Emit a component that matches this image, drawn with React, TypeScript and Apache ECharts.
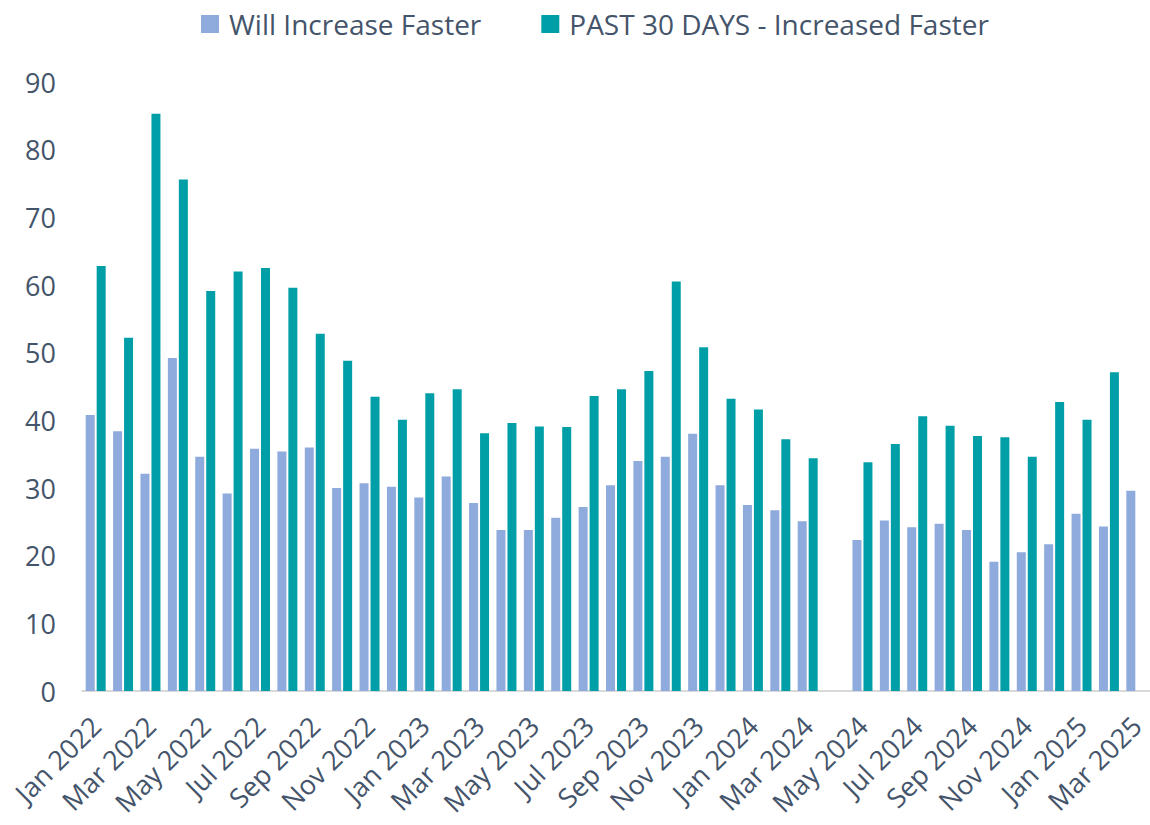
import React, { useEffect, useRef } from "react";
import * as echarts from "echarts";

const months: string[] = [
  "Jan 2022", "Feb 2022", "Mar 2022", "Apr 2022", "May 2022", "Jun 2022",
  "Jul 2022", "Aug 2022", "Sep 2022", "Oct 2022", "Nov 2022", "Dec 2022",
  "Jan 2023", "Feb 2023", "Mar 2023", "Apr 2023", "May 2023", "Jun 2023",
  "Jul 2023", "Aug 2023", "Sep 2023", "Oct 2023", "Nov 2023", "Dec 2023",
  "Jan 2024", "Feb 2024", "Mar 2024", "Apr 2024", "May 2024", "Jun 2024",
  "Jul 2024", "Aug 2024", "Sep 2024", "Oct 2024", "Nov 2024", "Dec 2024",
  "Jan 2025", "Feb 2025", "Mar 2025",
];

const willIncrease: (number | null)[] = [
  40.8, 38.4, 32.1, 49.2, 34.6, 29.2, 35.8, 35.4, 36.0, 30.0, 30.7, 30.2,
  28.6, 31.7, 27.8, 23.8, 23.8, 25.6, 27.2, 30.4, 34.0, 34.6, 38.0, 30.4,
  27.5, 26.7, 25.1, null, 22.3, 25.2, 24.2, 24.7, 23.8, 19.1, 20.5, 21.7,
  26.2, 24.3, 29.6,
];

const past30Days: (number | null)[] = [
  62.8, 52.2, 85.3, 75.6, 59.1, 62.0, 62.5, 59.6, 52.8, 48.8, 43.5, 40.1,
  44.0, 44.6, 38.1, 39.6, 39.1, 39.0, 43.6, 44.6, 47.3, 60.5, 50.8, 43.2,
  41.6, 37.2, 34.4, null, 33.8, 36.5, 40.6, 39.2, 37.7, 37.5, 34.6, 42.7,
  40.1, 47.1, null,
];

const yTicks = { min: 0, max: 90, interval: 10 };

const TEXT = "#44546A";
const FONT = "Open Sans";

export default function App() {
  const ref = useRef<HTMLDivElement>(null);
  useEffect(() => {
    if (!ref.current) return;
    const chart = echarts.init(ref.current, null, { renderer: "svg" });
    chart.setOption({
      animation: false,
      backgroundColor: "#ffffff",
      textStyle: { fontFamily: FONT },
      legend: {
        left: 196,
        top: 5,
        icon: "rect",
        itemWidth: 18,
        itemHeight: 18,
        itemGap: 60,
        textStyle: { color: TEXT, fontSize: 28, fontFamily: FONT, padding: [0, 0, 0, 5] },
        data: ["Will Increase Faster", "PAST 30 DAYS - Increased Faster"],
      },
      grid: { left: 82, top: 82, width: 1075, height: 609, containLabel: false },
      xAxis: {
        type: "category",
        data: months,
        axisTick: { show: false },
        axisLine: { show: true, lineStyle: { color: "#D9D9D9", width: 2 } },
        axisLabel: {
          interval: 1,
          rotate: 45,
          color: TEXT,
          fontSize: 27,
          fontFamily: FONT,
          margin: 30,
        },
      },
      yAxis: {
        type: "value",
        min: yTicks.min,
        max: yTicks.max,
        interval: yTicks.interval,
        splitLine: { show: false },
        axisLine: { show: false },
        axisTick: { show: false },
        axisLabel: { color: TEXT, fontSize: 27, fontFamily: FONT, margin: 26 },
      },
      series: [
        {
          name: "Will Increase Faster",
          type: "bar",
          data: willIncrease,
          barWidth: 9,
          barGap: "22%",
          itemStyle: { color: "#8FAADC" },
        },
        {
          name: "PAST 30 DAYS - Increased Faster",
          type: "bar",
          data: past30Days,
          barWidth: 9,
          itemStyle: { color: "#009FA8" },
        },
      ],
    });
    return () => chart.dispose();
  }, []);
  return (
    <div
      ref={ref}
      style={{ position: "absolute", left: 0, top: 0, width: 1150, height: 825 }}
    />
  );
}
